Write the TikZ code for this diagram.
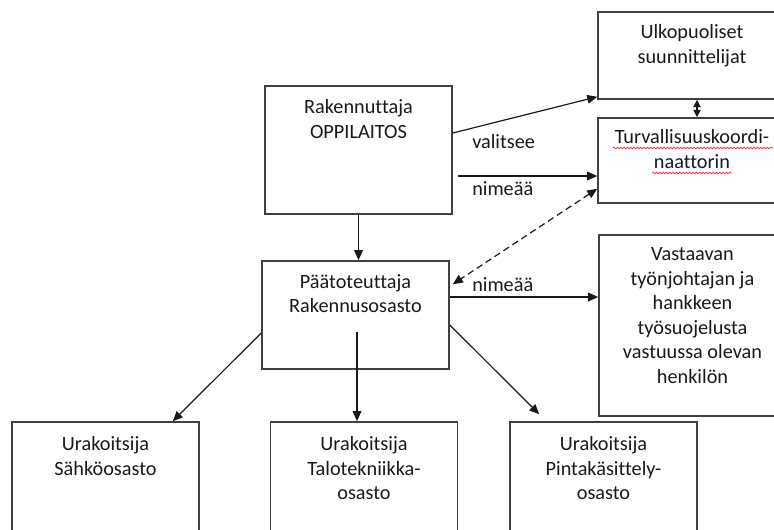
\documentclass[tikz,border=0pt]{standalone}
\usepackage{fontspec}
\setmainfont{Carlito}[Ligatures=NoCommon]
\usetikzlibrary{arrows.meta,positioning,decorations.pathmorphing}

\begin{document}
\begin{tikzpicture}[x=0.75pt,y=-0.75pt,
    orgBox/.style={rectangle,draw=black!75,line width=1.2pt,minimum width=140.25pt,inner sep=0pt},
    orgTxt/.style={align=center,inner sep=0pt,text=black!90,font=\fontsize{15.2}{18.4}\selectfont},
    orgLbl/.style={anchor=west,inner sep=0pt,text=black!90,font=\fontsize{15.2}{18.4}\selectfont},
    orgArr/.style={-{Triangle[length=7.5pt,width=6.5pt]},line width=0.9pt,black!90},
    orgBiArr/.style={{Triangle[length=5.5pt,width=5.5pt]}-{Triangle[length=5.5pt,width=5.5pt]},line width=0.9pt,black!90},
    spellErr/.style={red!80,line width=0.6pt,decorate,decoration={snake,amplitude=0.6pt,segment length=2.5pt}},
]
\useasboundingbox (0,0) rectangle (774,529);
\clip (0,0) rectangle (774,529);
% boxes
\node[orgBox,minimum width=141pt,minimum height=65.25pt] (ulkB) at (692,55.5) {};
\node[orgBox,minimum width=141pt,minimum height=63.75pt] (turvB) at (692,160.5) {};
\node[orgBox,minimum height=96pt] (rakB) at (358.5,150) {};
\node[orgBox,minimum height=81pt] (paaB) at (355.5,315) {};
\node[orgBox,minimum height=135.75pt] (vastB) at (692.5,325.5) {};
\node[orgBox,minimum height=103.5pt] (sahB) at (105.5,491) {};
\node[orgBox,minimum height=103.5pt] (taloB) at (364,491) {};
\node[orgBox,minimum height=103.5pt] (pintaB) at (603.5,491) {};
% texts
\node[orgTxt,below=9.75pt of ulkB.north] (ulkT) {Ulkopuoliset\\suunnittelijat};
\node[orgTxt,below=9pt of turvB.north] (turvT) {Turvallisuuskoordi-\\naattorin};
\node[orgTxt,below=10.5pt of rakB.north] (rakT) {Rakennuttaja\\OPPILAITOS};
\node[orgTxt,below=10.5pt of paaB.north] (paaT) {Päätoteuttaja\\Rakennusosasto};
\node[orgTxt,below=9.75pt of vastB.north] (vastT) {Vastaavan\\työnjohtajan ja\\hankkeen\\työsuojelusta\\vastuussa olevan\\henkilön};
\node[orgTxt,below=11.25pt of sahB.north] (sahT) {Urakoitsija\\Sähköosasto};
\node[orgTxt,below=11.25pt of taloB.north] (taloT) {Urakoitsija\\Talotekniikka-\\osasto};
\node[orgTxt,below=11.25pt of pintaB.north] (pintaT) {Urakoitsija\\Pintakäsittely-\\osasto};
\draw[spellErr] (613,148) -- (773,148);
\draw[spellErr] (652,173) -- (732,173);
% labels
\node[orgLbl] (valL) at (472,142) {valitsee};
\node[orgLbl] (nimL1) at (472,189) {nimeää};
\node[orgLbl] (nimL2) at (472,285) {nimeää};
% connectors
\draw[orgArr] ([yshift=12.75pt]rakB.east) -- ([yshift=2.25pt]ulkB.south west);
\draw[orgArr] ([xshift=3.75pt,yshift=-19.5pt]rakB.east) coordinate (nimA) -- (nimA -| turvB.west);
\draw[orgBiArr] ([xshift=3.75pt]ulkB.south) -- ([xshift=3.75pt]turvB.north);
\draw[orgBiArr,{Triangle[length=7.5pt,width=6.5pt]}-{Triangle[length=7.5pt,width=6.5pt]},dash pattern=on 5pt off 3pt] ([yshift=11.25pt]turvB.south west) -- ([xshift=2.25pt,yshift=-18pt]paaB.north east);
\draw[orgArr] (rakB.south) -- (rakB.south |- paaB.north);
\draw[orgArr] ([yshift=13.5pt]paaB.east) coordinate (nimB) -- (nimB -| vastB.west);
\draw[orgArr] ([yshift=-13.5pt]paaB.west) -- ([xshift=-20.25pt]sahB.north east);
\draw[orgArr] ([xshift=1.125pt,yshift=-12.75pt]paaB.center) coordinate (taloA) -- (taloA |- taloB.north);
\draw[orgArr] ([yshift=-7.5pt]paaB.east) -- ([xshift=22.5pt,yshift=5.25pt]pintaB.north west);
\end{tikzpicture}
\end{document}
